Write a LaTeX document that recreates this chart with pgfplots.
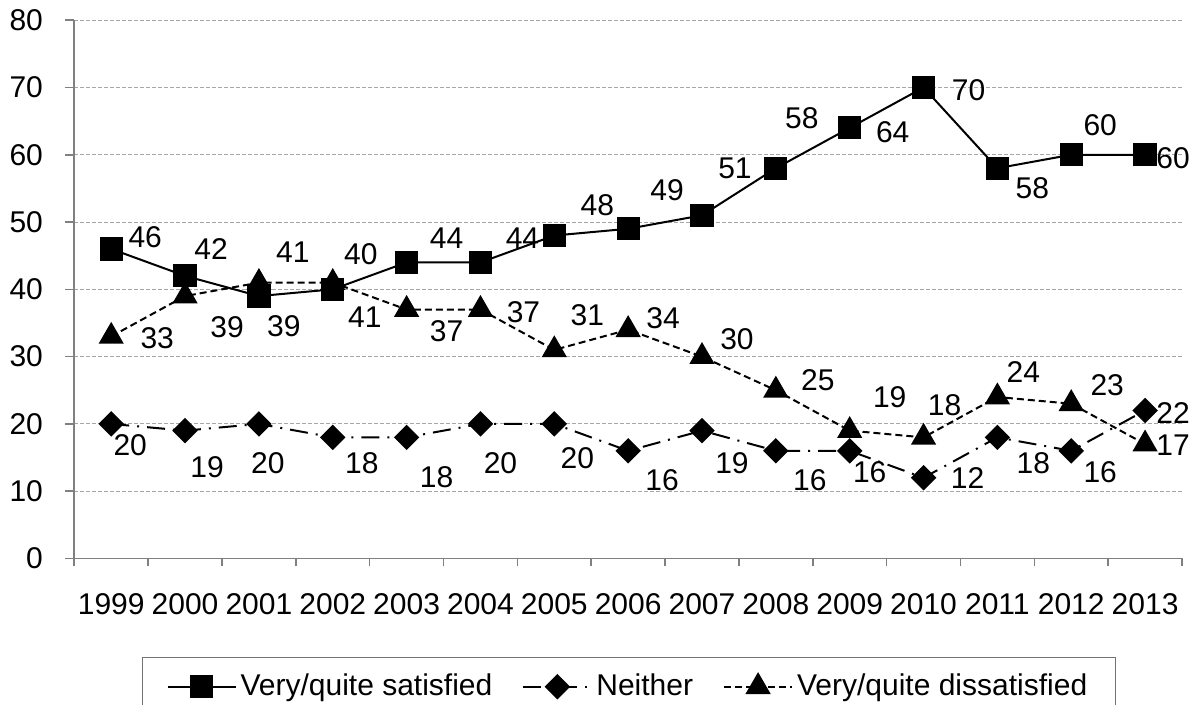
\documentclass[border=0pt]{standalone}
\usepackage{fontspec}
\setmainfont{Liberation Sans}
\usepackage{pgfplots}
\pgfplotsset{compat=1.18}

\newcommand{\chartfont}{\fontsize{15}{18}\selectfont}
% data label: x index, value, shift right, shift up (in image px, 1px = 0.5pt)
\newcommand{\lbl}[4]{\node[inner sep=0pt, font=\chartfont, xshift=#3*0.5pt, yshift=#4*0.5pt] at (axis cs:#1,#2) {#2};}

\begin{document}
\chartfont
\begin{tikzpicture}[font=\chartfont]
\begin{axis}[
  width=553.85pt, height=269.15pt, scale only axis,
  xmin=0.5, xmax=15.5, ymin=0, ymax=80,
  axis x line*=bottom, axis y line*=left,
  axis line style={draw=black!50, line width=0.8pt},
  ytick={0,10,...,80},
  xtick={1,...,15},
  xticklabels={1999,2000,2001,2002,2003,2004,2005,2006,2007,2008,2009,2010,2011,2012,2013},
  minor xtick={0.5,1.5,...,15.5},
  tick align=outside,
  major tick length=4.5pt, minor tick length=4pt,
  xtick style={draw=none},
  minor x tick style={draw=black!50, line width=0.8pt},
  ytick style={draw=black!50, line width=0.8pt},
  ymajorgrids,
  major grid style={draw=black!35, dash pattern=on 2pt off 1pt, line width=0.5pt},
  tick label style={font=\chartfont},
  /pgf/number format/assume math mode=true,
  xticklabel style={yshift=-8pt},
  yticklabel style={xshift=-6pt},
  clip=false,
  legend style={at={(0.0611,-0.183)}, anchor=north west,
    draw=black!55, line width=0.6pt, inner xsep=12pt, inner ysep=6pt,
    font=\chartfont,
    /tikz/every even column/.append style={column sep=13pt}},
  legend columns=3,
  legend cell align=left,
  legend image code/.code={\draw[mark repeat=2,mark phase=2,#1] plot coordinates {(0pt,0pt) (17pt,0pt) (34pt,0pt)};},
]
\addplot[black, line width=1pt, mark=square*, mark size=5.3pt, mark options={solid}]
  coordinates {(1,46) (2,42) (3,39) (4,40) (5,44) (6,44) (7,48) (8,49) (9,51) (10,58) (11,64) (12,70) (13,58) (14,60) (15,60)};
\addplot[black, line width=1pt, dash pattern=on 9pt off 4pt on 1pt off 4pt, mark=square*, mark size=4pt, mark options={solid, rotate=45}]
  coordinates {(1,20) (2,19) (3,20) (4,18) (5,18) (6,20) (7,20) (8,16) (9,19) (10,16) (11,16) (12,12) (13,18) (14,16) (15,22)};
\addplot[black, line width=1pt, dash pattern=on 3.5pt off 2pt, mark=triangle*, mark size=6.3pt, mark options={solid}]
  coordinates {(1,33) (2,39) (3,41) (4,41) (5,37) (6,37) (7,31) (8,34) (9,30) (10,25) (11,19) (12,18) (13,24) (14,23) (15,17)};
\legend{Very/quite satisfied, Neither, Very/quite dissatisfied}

% satisfied
\lbl{1}{46}{34}{12} \lbl{2}{42}{26}{27} \lbl{3}{39}{25}{-30} \lbl{4}{40}{28}{35}
\lbl{5}{44}{40}{24} \lbl{6}{44}{42}{24} \lbl{7}{48}{43}{30} \lbl{8}{49}{39}{39}
\lbl{9}{51}{33}{47} \lbl{10}{58}{26}{50} \lbl{11}{64}{43}{-4} \lbl{12}{70}{45}{-3}
\lbl{13}{58}{35}{-20} \lbl{14}{60}{29}{30} \lbl{15}{60}{28}{-3}
% neither
\lbl{1}{20}{19}{-21} \lbl{2}{19}{22}{-37} \lbl{3}{20}{9}{-39} \lbl{4}{18}{29}{-26}
\lbl{5}{18}{30}{-40} \lbl{6}{20}{20}{-39} \lbl{7}{20}{23}{-34} \lbl{8}{16}{34}{-29}
\lbl{9}{19}{30}{-33} \lbl{10}{16}{34}{-29} \lbl{11}{16}{20}{-21} \lbl{12}{12}{44}{0}
\lbl{13}{18}{36}{-26} \lbl{14}{16}{29}{-21} \lbl{15}{22}{28}{-3}
% dissatisfied
\lbl{1}{33}{46}{-2} \lbl{2}{39}{42}{-31} \lbl{3}{41}{34}{30} \lbl{4}{41}{32}{-35}
\lbl{5}{37}{40}{-22} \lbl{6}{37}{43}{-3} \lbl{7}{31}{33}{35} \lbl{8}{34}{35}{12}
\lbl{9}{30}{35}{17} \lbl{10}{25}{42}{10} \lbl{11}{19}{40}{33} \lbl{12}{18}{21}{32}
\lbl{13}{24}{26}{25} \lbl{14}{23}{36}{19} \lbl{15}{17}{28}{-1}
\end{axis}
\pgfresetboundingbox
\path[use as bounding box] ([shift={(-37.15pt,-73.25pt)}]current axis.south west)
  rectangle ([shift={(562.85pt,279.25pt)}]current axis.south west);
\end{tikzpicture}
\end{document}
